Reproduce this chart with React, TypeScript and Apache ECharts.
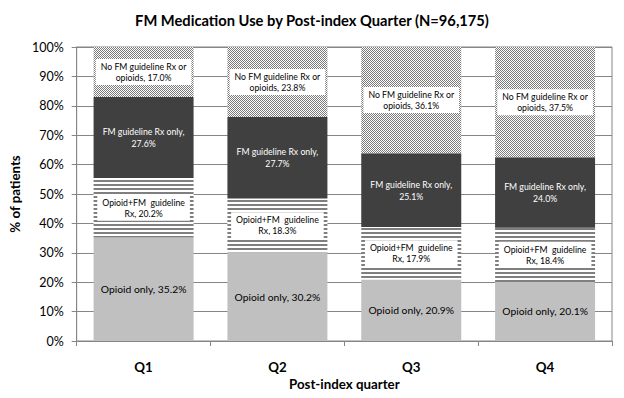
import React, { useEffect, useRef } from "react";
import * as echarts from "echarts";

const categories = ["Q1", "Q2", "Q3", "Q4"];
const opioidOnly = [35.2, 30.2, 20.9, 20.1];
const opioidFM = [20.2, 18.3, 17.9, 18.4];
const fmOnly = [27.6, 27.7, 25.1, 24.0];
const noFM = [17.0, 23.8, 36.1, 37.5];
const yTicks = [0, 10, 20, 30, 40, 50, 60, 70, 80, 90, 100];

const FONT = "Lato, 'Liberation Sans', sans-serif";

function makeStripe() {
  const c = document.createElement("canvas");
  c.width = 4;
  c.height = 4;
  const ctx = c.getContext("2d")!;
  ctx.fillStyle = "#ffffff";
  ctx.fillRect(0, 0, 4, 4);
  ctx.fillStyle = "#7f7f7f";
  ctx.fillRect(0, 0, 4, 2);
  return c;
}

function makeChecker() {
  const c = document.createElement("canvas");
  c.width = 2;
  c.height = 2;
  const ctx = c.getContext("2d")!;
  ctx.fillStyle = "#ffffff";
  ctx.fillRect(0, 0, 2, 2);
  ctx.fillStyle = "#7a7a7a";
  ctx.fillRect(0, 0, 1, 1);
  ctx.fillRect(1, 1, 1, 1);
  return c;
}

export default function App() {
  const ref = useRef<HTMLDivElement>(null);
  useEffect(() => {
    if (!ref.current) return;
    const chart = echarts.init(ref.current, null, { renderer: "svg" });
    const stripe = makeStripe();
    const checker = makeChecker();
    const boxLabel = {
      show: true,
      position: "inside",
      fontFamily: FONT,
      fontSize: 8.7,
      lineHeight: 11,
      color: "#000",
      backgroundColor: "#ffffff",
      padding: [1, 4, 1, 4],
    };
    chart.setOption({
      animation: false,
      title: {
        text: "FM Medication Use by Post-index Quarter (N=96,175)",
        left: "center",
        top: 12,
        padding: 0,
        textStyle: { fontFamily: FONT, fontSize: 14.7, fontWeight: "bold", color: "#000" },
      },
      grid: { left: 61, right: 12, top: 47, bottom: 57, show: true, borderColor: "#868686", borderWidth: 1 },
      xAxis: {
        type: "category",
        data: categories,
        name: "Post-index quarter",
        nameLocation: "middle",
        nameGap: 35,
        nameTextStyle: { fontFamily: FONT, fontSize: 13.3, fontWeight: "bold", color: "#000" },
        axisLine: { lineStyle: { color: "#868686" } },
        axisTick: { show: true, length: 5, lineStyle: { color: "#868686" } },
        axisLabel: { fontFamily: FONT, fontSize: 13.3, fontWeight: "bold", color: "#000", margin: 19 },
      },
      yAxis: {
        type: "value",
        min: yTicks[0],
        max: yTicks[yTicks.length - 1],
        interval: 10,
        name: "% of patients",
        nameLocation: "middle",
        nameRotate: 90,
        nameGap: 42,
        nameTextStyle: { fontFamily: FONT, fontSize: 13.3, fontWeight: "bold", color: "#000" },
        axisLine: { show: true, lineStyle: { color: "#868686" } },
        axisTick: { show: true, length: 5, lineStyle: { color: "#868686" } },
        axisLabel: { formatter: "{value}%", fontFamily: FONT, fontSize: 12.5, color: "#000", margin: 13 },
        splitLine: { lineStyle: { color: "#868686" } },
      },
      series: [
        {
          name: "Opioid only",
          type: "bar",
          stack: "a",
          barWidth: 100,
          data: opioidOnly,
          itemStyle: { color: "#c0c0c0" },
          label: {
            show: true,
            position: "inside",
            fontFamily: FONT,
            fontSize: 10.3,
            color: "#000",
            formatter: (p: any) => `Opioid only, ${p.value.toFixed(1)}%`,
          },
        },
        {
          name: "Opioid+FM guideline Rx",
          type: "bar",
          stack: "a",
          data: opioidFM,
          itemStyle: {
            color: { image: stripe, repeat: "repeat", imageWidth: 4, imageHeight: 4 },
          },
          label: {
            ...boxLabel,
            padding: [2, 5, 2, 5],
            formatter: (p: any) => `Opioid+FM  guideline\nRx, ${p.value.toFixed(1)}%`,
          },
        },
        {
          name: "FM guideline Rx only",
          type: "bar",
          stack: "a",
          data: fmOnly,
          itemStyle: { color: "#404040" },
          label: {
            show: true,
            position: "inside",
            fontFamily: FONT,
            fontSize: 8.7,
            lineHeight: 12,
            color: "#ffffff",
            formatter: (p: any) => `FM guideline Rx only,\n${p.value.toFixed(1)}%`,
          },
        },
        {
          name: "No FM guideline Rx or opioids",
          type: "bar",
          stack: "a",
          data: noFM,
          itemStyle: {
            color: { image: checker, repeat: "repeat", imageWidth: 2, imageHeight: 2 },
          },
          label: {
            ...boxLabel,
            padding: [2, 5, 2, 5],
            formatter: (p: any) => `No FM guideline Rx or\nopioids, ${p.value.toFixed(1)}%`,
          },
        },
      ],
    });
    return () => chart.dispose();
  }, []);
  return <div ref={ref} style={{ width: 624, height: 398, position: "absolute", left: 0, top: 0, background: "#fff" }} />;
}
